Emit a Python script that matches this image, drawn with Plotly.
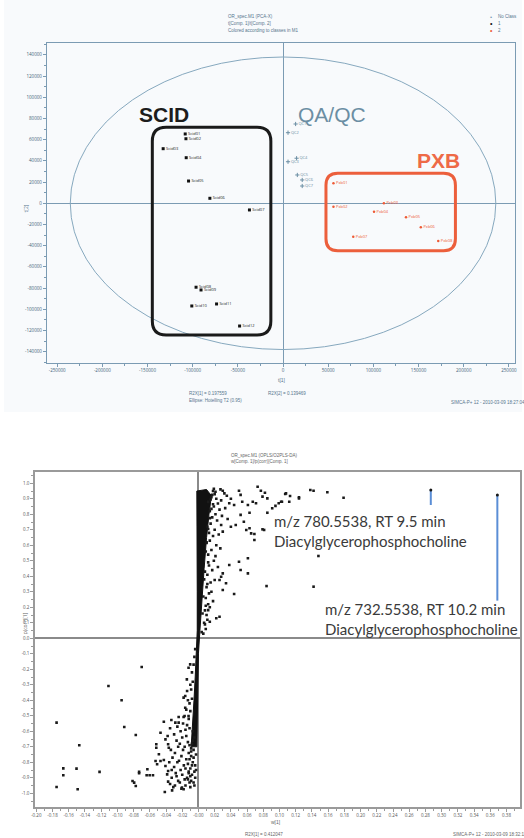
import plotly.graph_objects as go

W, H = 524, 838

# ---------------- top panel: PCA score plot ----------------
scid_t1 = [-108300, -107500, -132700, -107200, -104600, -81000, -37200, -96300, -90800, -101000, -73600, -48100]
scid_t2 = [65400, 60900, 51500, 43000, 21000, 4700, -6300, -79200, -81800, -96900, -95000, -115800]
scid_lab = ["Scid01", "Scid02", "Scid03", "Scid04", "Scid05", "Scid06", "Scid07", "Scid08", "Scid09", "Scid10", "Scid11", "Scid12"]

qc_t1 = [13900, 5500, 5500, 15000, 15800, 21200, 21200]
qc_t2 = [74800, 66600, 39200, 42500, 26700, 22000, 16300]
qc_lab = ["QC1", "QC2", "QC3", "QC4", "QC5", "QC6", "QC7"]

pxb_t1 = [55800, 55800, 111600, 100700, 136100, 152500, 77700, 171800]
pxb_t2 = [18900, -3200, 0, -7900, -13200, -22600, -31500, -35600]
pxb_lab = ["Pxb01", "Pxb02", "Pxb03", "Pxb04", "Pxb05", "Pxb06", "Pxb07", "Pxb08"]

ellipse_t1, ellipse_t2 = 235500, 138000

# group boxes (data units): x0, x1, y0, y1
scid_box = [-144700, -13500, -124200, 71700]
pxb_box = [47500, 190800, -44700, 28300]

# ---------------- bottom panel: S-plot ----------------
up_w = [0.0272, 0.030, 0.032, 0.050, 0.052, 0.073, 0.077, 0.082, 0.079, 0.085, 0.107, 0.113, 0.124, 0.138, 0.142,
        0.159, 0.179, 0.054, 0.061, 0.071, 0.067, 0.038, 0.044, 0.095, 0.099, 0.103, 0.091, 0.085, 0.063, 0.052,
        0.056, 0.040, 0.046, 0.028, 0.030, 0.063, 0.065, 0.069, 0.059, 0.081, 0.148, 0.061, 0.038, 0.050, 0.052,
        0.061, 0.030, 0.028, 0.026, 0.034, 0.030, 0.044, 0.084, 0.142, 0.026, 0.022, 0.014, 0.012, 0.020,
        0.018, 0.020, 0.022, 0.016, 0.024, 0.019, 0.026, 0.021, 0.017, 0.023, 0.015, 0.020, 0.018, 0.014, 0.022,
        0.016, 0.012, 0.019, 0.013, 0.017, 0.011, 0.015, 0.010, 0.013, 0.009, 0.012, 0.008, 0.010, 0.007, 0.009,
        0.006, 0.035, 0.040, 0.028, 0.033, 0.029, 0.036, 0.025, 0.027, 0.021, 0.024, 0.016, 0.018, 0.014, 0.011,
        0.112, 0.102, 0.108, 0.124, 0.079, 0.069,
        0.012, 0.014, 0.011, 0.013, 0.010, 0.009, 0.012, 0.008, 0.007, 0.011, 0.006, 0.009, 0.005, 0.008, 0.004,
        0.019, 0.021, 0.017, 0.015, 0.018, 0.016, 0.014, 0.012, 0.010]
up_p = [0.961, 0.952, 0.935, 0.952, 0.925, 0.978, 0.952, 0.939, 0.914, 0.903, 0.931, 0.918, 0.910, 0.957, 0.952,
        0.942, 0.907, 0.881, 0.860, 0.871, 0.881, 0.871, 0.860, 0.854, 0.871, 0.881, 0.839, 0.810, 0.810, 0.796,
        0.752, 0.720, 0.731, 0.731, 0.688, 0.710, 0.677, 0.634, 0.699, 0.699, 0.531, 0.516, 0.473, 0.494, 0.441,
        0.419, 0.419, 0.397, 0.376, 0.355, 0.312, 0.286, 0.337, 0.333, 0.139, 0.129, 0.107, 0.182, 0.376,
        0.95, 0.93, 0.90, 0.91, 0.87, 0.85, 0.83, 0.80, 0.78, 0.76, 0.74, 0.70, 0.66, 0.63, 0.60,
        0.57, 0.54, 0.50, 0.47, 0.44, 0.41, 0.36, 0.33, 0.29, 0.26, 0.22, 0.18, 0.15, 0.10, 0.06,
        0.03, 0.92, 0.90, 0.89, 0.84, 0.79, 0.77, 0.67, 0.58, 0.53, 0.46, 0.30, 0.24, 0.20, 0.12,
        0.881, 0.881, 0.935, 0.903, 0.703, 0.673,
        0.88, 0.82, 0.72, 0.68, 0.62, 0.56, 0.49, 0.43, 0.38, 0.35, 0.27, 0.21, 0.16, 0.09, 0.04,
        0.965, 0.945, 0.925, 0.895, 0.865, 0.835, 0.775, 0.705, 0.615]

lo_w = [-0.070, -0.111, -0.0948, -0.175, -0.0915, -0.0773, -0.147, -0.1667, -0.1667, -0.1504, -0.122, -0.175,
        -0.149, -0.0813, -0.0793, -0.0773, -0.0732, -0.0732, -0.0630, -0.0639, -0.0602, -0.0561, -0.052, -0.052,
        -0.0468, -0.0427, -0.0334, -0.0285, -0.0244, -0.0407, -0.0374, -0.0366, -0.0488, -0.0529, -0.0468, -0.0427,
        -0.0510, -0.0407, -0.0374, -0.0386, -0.0374, -0.0415, -0.0325, -0.0183, -0.0203, -0.0143, -0.0122, -0.0102,
        -0.0183, -0.0163, -0.0163, -0.0171, -0.0122, -0.0183, -0.0244,
        -0.030, -0.027, -0.025, -0.029, -0.032, -0.026, -0.030, -0.028, -0.033, -0.025, -0.029, -0.022, -0.020,
        -0.023, -0.019, -0.021, -0.024, -0.018, -0.022, -0.020, -0.017, -0.023, -0.016, -0.014, -0.016, -0.015,
        -0.013, -0.017, -0.012, -0.015, -0.013, -0.016, -0.012, -0.014, -0.011, -0.010, -0.009, -0.008, -0.010,
        -0.007, -0.009, -0.006, -0.008, -0.005, -0.007, -0.011, -0.012, -0.010, -0.011, -0.008, -0.009, -0.007,
        -0.008, -0.006, -0.005, -0.004, -0.035, -0.038, -0.034, -0.036, -0.033, -0.027, -0.031, -0.035, -0.021,
        -0.026, -0.019, -0.015, -0.013, -0.014, -0.010, -0.004, -0.003, -0.005, -0.006,
        -0.009, -0.011, -0.008, -0.012, -0.010, -0.013, -0.006, -0.009, -0.004, -0.007, -0.003, -0.011, -0.005]
lo_p = [-0.185, -0.308, -0.400, -0.544, -0.572, -0.624, -0.690, -0.839, -0.884, -0.841, -0.862, -0.959,
        -0.974, -0.921, -0.931, -0.953, -0.862, -0.871, -0.845, -0.884, -0.884, -0.884, -0.684, -0.706,
        -0.609, -0.538, -0.527, -0.544, -0.544, -0.652, -0.684, -0.706, -0.748, -0.792, -0.792, -0.785,
        -0.813, -0.824, -0.856, -0.878, -0.925, -0.992, -0.981, -0.974, -0.963, -0.265, -0.190, -0.168,
        -0.383, -0.372, -0.448, -0.501, -0.501, -0.508, -0.508,
        -0.62, -0.66, -0.70, -0.74, -0.77, -0.80, -0.83, -0.87, -0.90, -0.92, -0.95, -0.60, -0.64,
        -0.68, -0.72, -0.76, -0.79, -0.82, -0.85, -0.88, -0.91, -0.93, -0.95, -0.56, -0.59, -0.63,
        -0.67, -0.70, -0.74, -0.78, -0.81, -0.84, -0.87, -0.90, -0.93, -0.96, -0.92, -0.88, -0.84,
        -0.80, -0.76, -0.72, -0.68, -0.64, -0.60, -0.58, -0.52, -0.47, -0.42, -0.39, -0.33, -0.28,
        -0.22, -0.17, -0.12, -0.07, -0.58, -0.63, -0.72, -0.80, -0.85, -0.89, -0.96, -0.94, -0.97,
        -0.57, -0.55, -0.46, -0.40, -0.34, -0.30, -0.90, -0.85, -0.95, -0.93,
        -0.73, -0.78, -0.82, -0.86, -0.89, -0.91, -0.77, -0.71, -0.82, -0.66, -0.75, -0.69, -0.86]

# dense core of the S-curve (outline of the solid black band)
core_w = [-0.009, -0.007, -0.0055, -0.004, -0.0025, -0.0015, -0.0015, -0.002, -0.002, -0.002,
          0.010, 0.016, 0.013, 0.010, 0.007, 0.004, 0.0018, 0.0, -0.0005, -0.001, -0.0015, -0.002]
core_p = [-0.70, -0.55, -0.40, -0.25, -0.10, 0.05, 0.30, 0.55, 0.80, 0.95,
          0.96, 0.92, 0.80, 0.65, 0.45, 0.25, 0.05, -0.10, -0.25, -0.40, -0.55, -0.70]

hi_w = [0.2866, 0.3687]
hi_p = [0.957, 0.925]
hi_low = [0.86, 0.243]
hi_text = ["m/z 780.5538, RT 9.5 min<br>Diacylglycerophosphocholine",
           "m/z 732.5538, RT 10.2 min<br>Diacylglycerophosphocholine"]
hi_text_w = [0.0905, 0.1540]
hi_text_p = [0.827, 0.259]

# ---------------- geometry ----------------
def dom_x(a, b):
    return [a / W, b / W]

def dom_y(top, bot):
    return [1 - bot / H, 1 - top / H]

fig = go.Figure()

BLUE = "#7b9bb3"
TXT = "#56758c"

# top panel traces
fig.add_trace(go.Scatter(x=scid_t1, y=scid_t2, mode="markers+text", text=scid_lab, textposition="middle right",
                         textfont=dict(size=4, color="#222"), marker=dict(size=3, color="#111", symbol="square"),
                         xaxis="x", yaxis="y", showlegend=False, cliponaxis=False))
fig.add_trace(go.Scatter(x=qc_t1, y=qc_t2, mode="markers+text", text=qc_lab, textposition="middle right",
                         textfont=dict(size=4, color="#6b8ea3"), marker=dict(size=3, color="#6b8ea3", symbol="cross-thin",
                         line=dict(width=1, color="#6b8ea3")),
                         xaxis="x", yaxis="y", showlegend=False))
fig.add_trace(go.Scatter(x=pxb_t1, y=pxb_t2, mode="markers+text", text=pxb_lab, textposition="middle right",
                         textfont=dict(size=4, color="#ee5a36"), marker=dict(size=2.5, color="#ee5a36"),
                         xaxis="x", yaxis="y", showlegend=False))

# bottom panel traces
fig.add_trace(go.Scatter(x=core_w + [core_w[0]], y=core_p + [core_p[0]], mode="lines", fill="toself",
                         fillcolor="#111", line=dict(color="#111", width=1), xaxis="x2", yaxis="y2",
                         showlegend=False, hoverinfo="skip"))
fig.add_trace(go.Scatter(x=up_w + lo_w, y=up_p + lo_p, mode="markers",
                         marker=dict(size=2.6, color="#1a1a1a", symbol="square"), xaxis="x2", yaxis="y2",
                         showlegend=False))
for i in range(len(hi_w)):
    fig.add_trace(go.Scatter(x=[hi_w[i], hi_w[i]], y=[hi_p[i], hi_low[i]], mode="lines",
                             line=dict(color="#5b8ed6", width=2), xaxis="x2", yaxis="y2", showlegend=False))
fig.add_trace(go.Scatter(x=hi_w, y=hi_p, mode="markers", marker=dict(size=3, color="#1a1a1a"),
                         xaxis="x2", yaxis="y2", showlegend=False))

def rounded(box, rx, ry):
    x0, x1, y0, y1 = box
    return (f"M {x0+rx},{y0} L {x1-rx},{y0} Q {x1},{y0} {x1},{y0+ry} L {x1},{y1-ry} Q {x1},{y1} {x1-rx},{y1} "
            f"L {x0+rx},{y1} Q {x0},{y1} {x0},{y1-ry} L {x0},{y0+ry} Q {x0},{y0} {x0+rx},{y0} Z")

shapes = [
    dict(type="rect", xref="paper", yref="paper", x0=0, x1=1, y0=1 - 412 / H, y1=1, fillcolor="#f8fafc",
         line=dict(width=0), layer="below"),
    dict(type="circle", xref="x", yref="y", x0=-ellipse_t1, x1=ellipse_t1, y0=-ellipse_t2, y1=ellipse_t2,
         line=dict(color="#86a8be", width=1)),
    dict(type="path", xref="x", yref="y", path=rounded(scid_box, 15300, 13200), line=dict(color="#1a1a1a", width=3)),
    dict(type="path", xref="x", yref="y", path=rounded(pxb_box, 13100, 11300), line=dict(color="#ec5f3c", width=3)),
]

annos = [
    dict(x=-131400, y=84200, xref="x", yref="y", text="<b>SCID</b>", showarrow=False,
         font=dict(size=21, color="#1c1c1c", family="Liberation Sans")),
    dict(x=54400, y=84200, xref="x", yref="y", text="QA/QC", showarrow=False,
         font=dict(size=21, color="#6b8ea3", family="Liberation Sans")),
    dict(x=172500, y=40200, xref="x", yref="y", text="<b>PXB</b>", showarrow=False,
         font=dict(size=21, color="#ee6a47", family="Liberation Sans")),
]
for i in range(len(hi_text)):
    annos.append(dict(x=hi_text_w[i], y=hi_text_p[i], xref="x2", yref="y2", text=hi_text[i], showarrow=False,
                      xanchor="left", yanchor="top", align="left",
                      font=dict(size=15, color="#3a3a3a", family="Lato")))

def ptext(x, y, s, size=4.5, color=TXT, xanchor="left"):
    annos.append(dict(x=x / W, y=1 - y / H, xref="paper", yref="paper", text=s, showarrow=False,
                      xanchor=xanchor, yanchor="middle", align="left", font=dict(size=size, color=color,
                      family="Liberation Sans")))

ptext(225, 16.7, "OR_spec.M1 (PCA-X)")
ptext(225, 23.3, "t[Comp. 1]/t[Comp. 2]")
ptext(225, 30.5, "Colored according to classes in M1")
ptext(498, 16.7, "No Class")
ptext(498, 23.3, "1")
ptext(498, 30.5, "2")
ptext(492.7, 16.7, "•", 6, "#7b9bb3", "center")
ptext(492.7, 23.3, "•", 7, "#111", "center")
ptext(492.7, 30.5, "•", 7, "#ee5a36", "center")
ptext(281.7, 380, "t[1]", 5, TXT, "center")
annos.append(dict(x=16.7 / W, y=1 - 203 / H, xref="paper", yref="paper", text="t[2]", showarrow=False,
                  textangle=-90, font=dict(size=5, color=TXT)))
ptext(185, 393.3, "R2X[1] = 0.197559")
ptext(265, 393.3, "R2X[2] = 0.139469")
ptext(185, 400.3, "Ellipse: Hotelling T2 (0.95)")
ptext(450, 402.7, "SIMCA-P+ 12 - 2010-03-09 18:27:04")

GR = "#666"
ptext(228, 455, "OR_spec.M1 (OPLS/O2PLS-DA)", 4.5, GR)
ptext(228, 461, "w[Comp. 1]/p(corr)[Comp. 1]", 4.5, GR)
ptext(275, 822, "w[1]", 5, GR, "center")
ptext(242, 834, "R2X[1] = 0.412047", 4.5, GR)
ptext(452, 834, "SIMCA-P+ 12 - 2010-03-09 18:32:11", 4.5, GR)
annos.append(dict(x=16.5 / W, y=1 - 636 / H, xref="paper", yref="paper", text="p(corr)[1]", showarrow=False,
                  textangle=-90, font=dict(size=5, color=GR)))

# tick labels
top_xvals = list(range(-250000, 250001, 50000))
top_yvals = list(range(-140000, 140001, 20000))
bot_xvals = [round(-0.20 + 0.02 * i, 2) for i in range(30)]
bot_xtext = ["-0.00" if abs(v) < 1e-9 else f"{v:.2f}" for v in bot_xvals]
bot_yvals = [round(-1.0 + 0.1 * i, 1) for i in range(21)]
bot_ytext = ["0.0" if abs(v) < 1e-9 else f"{v:.1f}" for v in bot_yvals]

common_top = dict(showgrid=False, showline=True, linecolor=BLUE, linewidth=1, mirror=True, ticks="outside",
                  ticklen=3, tickcolor=BLUE, tickfont=dict(size=4.5, color="#3f5f78"),
                  zeroline=True, zerolinecolor=BLUE, zerolinewidth=1)
common_bot = dict(showgrid=False, showline=True, linecolor="#9a9a9a", linewidth=2, mirror=True, ticks="outside",
                  ticklen=3, tickcolor="#9a9a9a", tickfont=dict(size=4.5, color="#555"),
                  zeroline=True, zerolinecolor="#8a8a8a", zerolinewidth=1.5)

fig.update_layout(
    width=W, height=H, margin=dict(l=0, r=0, t=0, b=0), paper_bgcolor="white", plot_bgcolor="rgba(0,0,0,0)",
    showlegend=False, shapes=shapes, annotations=annos,
    xaxis=dict(domain=dom_x(43.3, 516.7), range=[-261500, 256500], anchor="y", tickmode="array",
               tickvals=top_xvals, ticktext=[str(v) for v in top_xvals],
               minor=dict(ticks="outside", ticklen=2, tickcolor=BLUE, dtick=25000, tick0=0), **common_top),
    yaxis=dict(domain=dom_y(42.7, 363), range=[-150700, 151500], anchor="x", tickmode="array",
               tickvals=top_yvals, ticktext=[str(v) for v in top_yvals],
               minor=dict(ticks="outside", ticklen=2, tickcolor=BLUE, dtick=10000, tick0=0), **common_top),
    xaxis2=dict(domain=dom_x(31.7, 521.7), range=[-0.2012, 0.3963], anchor="y2", tickmode="array",
                tickvals=bot_xvals, ticktext=bot_xtext,
                minor=dict(ticks="outside", ticklen=2, tickcolor="#9a9a9a", dtick=0.01, tick0=0), **common_bot),
    yaxis2=dict(domain=dom_y(471.7, 806.7), range=[-1.0865, 1.0748], anchor="x2", tickmode="array",
                tickvals=bot_yvals, ticktext=bot_ytext,
                minor=dict(ticks="outside", ticklen=2, tickcolor="#9a9a9a", dtick=0.05, tick0=0), **common_bot),
)

fig.write_html("out.html", config={"displayModeBar": False},
               post_script="document.body.style.margin='0px';document.body.style.overflow='hidden';")
